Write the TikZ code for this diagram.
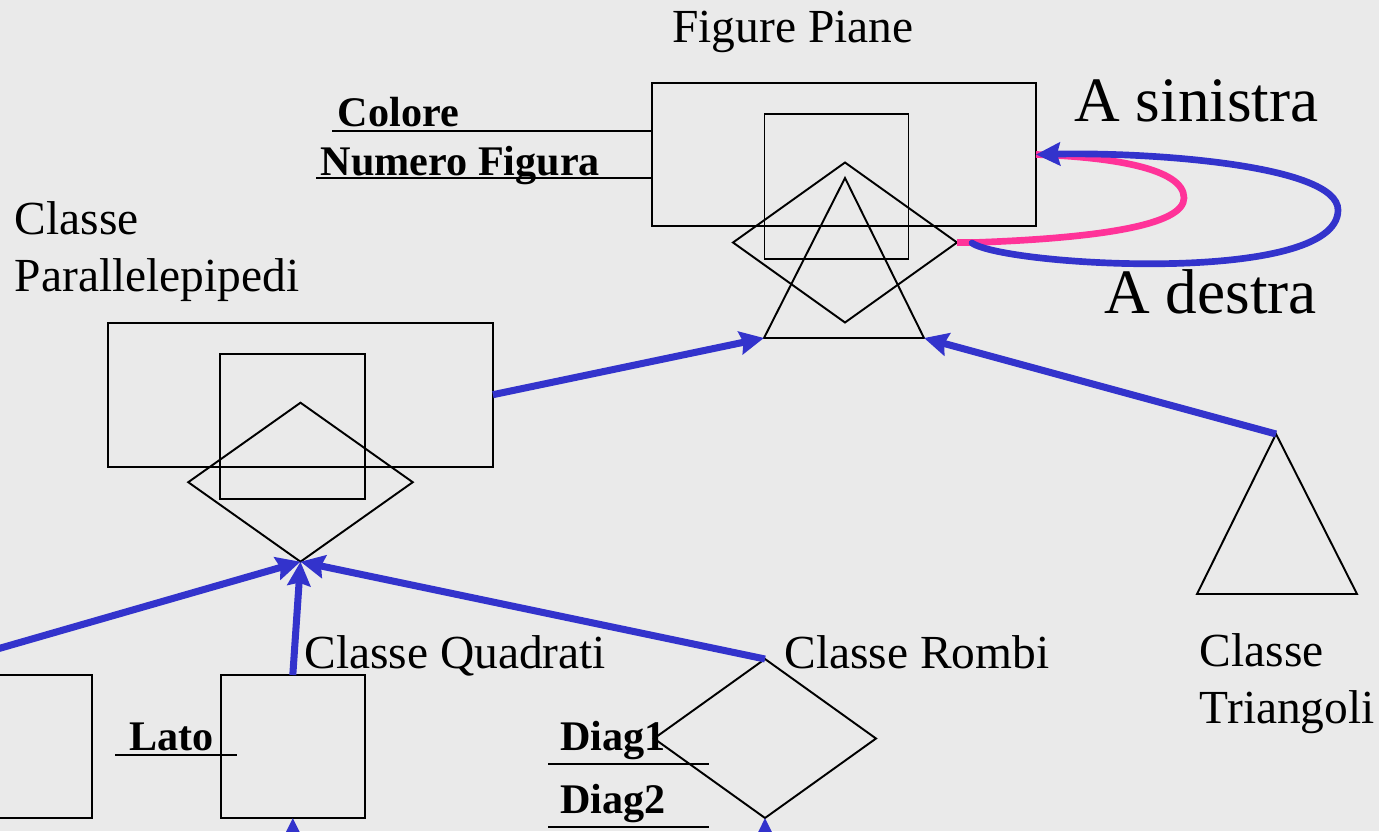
\documentclass[tikz,border=0pt]{standalone}
\usepackage{fontspec}
\setmainfont{Liberation Serif}
\usetikzlibrary{arrows.meta,shapes.geometric}

\definecolor{slide}{HTML}{EAEAEA}
\definecolor{linkblue}{HTML}{3333CC}
\definecolor{linkpink}{HTML}{FF3399}

\newcommand\classfont{\fontsize{27}{32.3}\selectfont}
\newcommand\attrfont{\fontsize{24}{28}\selectfont\bfseries}
\newcommand\sidefont{\fontsize{36}{40}\selectfont}

\tikzset{
  figline/.style={draw=black,line width=1.1pt},
  link/.style={draw=linkblue,line width=4pt,-{Stealth[length=4.8mm,width=4.6mm,inset=0.6mm]}},
  loop/.style={line width=3.8pt,line cap=round},
}

\begin{document}
\begin{tikzpicture}[x=0.2mm,y=-0.2mm]

      \fill[slide] (0,0) rectangle (1379,831);
      \useasboundingbox (0,0) rectangle (1379,831);
      \clip (0,0) rectangle (1379,831);

      \begin{scope}[every node/.style={draw,line width=1.1pt,inner sep=0,outer sep=0}]
        \node[minimum width=76.8mm,minimum height=28.6mm] (fp)   at (844,154.5) {};
        \node[minimum width=28.8mm,minimum height=28.9mm] (fpq)  at (836.5,186.7) {};
        \node[diamond,minimum width=44.8mm,minimum height=32mm] (fpd) at (845,242.5) {};
        \node[minimum width=77mm,minimum height=28.8mm]   (par)  at (300.4,394.7) {};
        \node[minimum width=29mm,minimum height=28.9mm]   (parq) at (292.5,426.7) {};
        \node[diamond,minimum width=44.9mm,minimum height=31.8mm] (pard) at (300.5,482.2) {};
        \node[minimum width=28.7mm,minimum height=28.6mm] (ret)  at (20.3,746.5) {};
        \node[minimum width=28.7mm,minimum height=28.6mm] (quad) at (292.8,746.5) {};
        \node[diamond,minimum width=44.4mm,minimum height=31.8mm] (romb) at (765,738.5) {};
      \end{scope}

      \coordinate (fpt)  at (845,178);
      \coordinate (fptl) at (764,338);
      \coordinate (fptr) at (924,338);
      \coordinate (trt)  at (1276,434);
      \coordinate (trl)  at (1197,594);
      \coordinate (trr)  at (1357,594);
      \coordinate (retsrc)  at (-100,677);
      \coordinate (quadsrc) at (292.8,900);
      \coordinate (rombsrc) at (765,900);
      \coordinate (bluesrc) at (972,243);

      \draw[figline] (fpt) -- (fptr) -- (fptl) -- cycle;
      \draw[figline] (trt) -- (trr) -- (trl) -- cycle;

      \draw[figline] (332,131) -- (652,131);
      \draw[figline] (316,178) -- (652,178);
      \draw[figline] (115,755) -- (237,755);
      \draw[figline] (548,764) -- (709,764);
      \draw[figline] (548,827) -- (709,827);

      \begin{scope}[every node/.style={inner sep=0,anchor=base west}]
        \node[font=\classfont] (t1) at (672,43) {Figure Piane};
        \node[font=\classfont,align=left] (t2) at (14.5,291.7) {Classe\\Parallelepipedi};
        \node[font=\classfont] (t3) at (304,668) {Classe Quadrati};
        \node[font=\classfont] (t4) at (784,668) {Classe Rombi};
        \node[font=\classfont,align=left] (t5) at (1199.5,723.3) {Classe\\Triangoli};
        \node[font=\attrfont] (t6) at (337.5,126.7) {Colore};
        \node[font=\attrfont] (t7) at (320.5,175) {Numero Figura};
        \node[font=\attrfont] (t8) at (129,750) {Lato};
        \node[font=\attrfont] (t9) at (560,750) {Diag1};
        \node[font=\attrfont] (t10) at (560,813) {Diag2};
        \node[font=\sidefont] (t11) at (1074,122) {A sinistra};
        \node[font=\sidefont] (t12) at (1104,313) {A destra};
      \end{scope}

      \draw[loop,draw=linkpink,line cap=butt] (fpd.east) -- ++(18,0)
        .. controls (1100,238) and (1184,225) .. (1184,198)
        .. controls (1184,168) and (1110,157) .. (fp.east);
      \draw[loop,draw=linkblue,-{Stealth[length=4.8mm,width=4.6mm,inset=0.6mm]}] (bluesrc)
        .. controls (1005,266) and (1338,286) .. (1338,210)
        .. controls (1338,165) and (1150,152) .. (fp.east);

      \begin{scope}[every edge/.style={link}]
        \path (par.east)   edge (fptl);
        \path (trt)        edge (fptr);
        \path (retsrc)     edge (pard.south);
        \path (quad.north) edge (pard.south);
        \path (romb.north) edge (pard.south);
        \path (quadsrc)    edge (quad.south);
        \path (rombsrc)    edge (romb.south);
      \end{scope}

    \end{tikzpicture}
\end{document}
